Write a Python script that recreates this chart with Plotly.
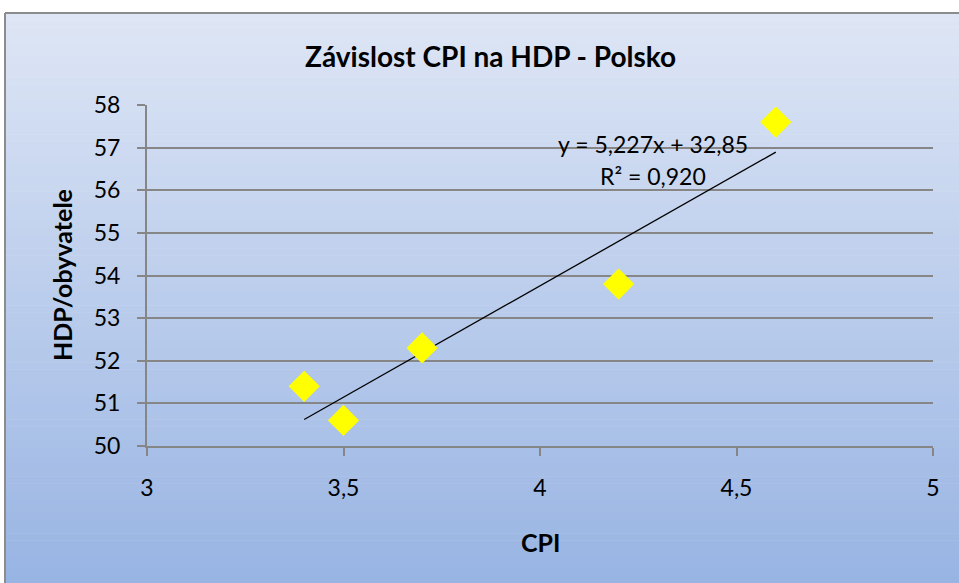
import numpy as np
import plotly.graph_objects as go

cpi = [3.4, 3.5, 3.7, 4.2, 4.6]
hdp = [51.4, 50.6, 52.3, 53.8, 57.6]
slope = 5.227
intercept = 32.85
r2_text = "R² = 0,920"
eq_text = "y = 5,227x + 32,85"
title = "<b>Závislost CPI na HDP - Polsko</b>"
x_title = "<b>CPI</b>"
y_title = "<b>HDP/obyvatele</b>"

W, H = 959, 583
L, R, T, B = 147, 26, 105, 137
pw, ph = W - L - R, H - T - B

def px_to_paper_x(px):
    return (px - L) / pw

def py_to_paper_y(py):
    return (H - B - py) / ph

FONT = "Lato"
fig = go.Figure()

trend_x = [min(cpi), max(cpi)]
trend_y = [slope * v + intercept for v in trend_x]
fig.add_trace(go.Scatter(x=trend_x, y=trend_y, mode="lines",
                         line=dict(color="black", width=1.3),
                         showlegend=False, hoverinfo="skip"))
fig.add_trace(go.Scatter(x=cpi, y=hdp, mode="markers",
                         marker=dict(symbol="diamond", size=24, color="#ffff00",
                                     line=dict(width=0)),
                         showlegend=False))

# gradient background bands
shapes = []
top_c = np.array([222, 230, 245])
bot_c = np.array([152, 180, 227])
y0px, y1px = 13, H
n = 80
for i in range(n):
    a = y0px + (y1px - y0px) * i / n
    b = y0px + (y1px - y0px) * (i + 1) / n
    t = (i + 0.5) / n
    c = top_c + (bot_c - top_c) * t
    shapes.append(dict(type="rect", xref="paper", yref="paper", layer="below",
                       x0=px_to_paper_x(5), x1=px_to_paper_x(W + 5),
                       y0=py_to_paper_y(b + 0.5), y1=py_to_paper_y(a),
                       fillcolor="rgb(%d,%d,%d)" % tuple(c.round()),
                       line=dict(width=0)))
# border
shapes.append(dict(type="line", xref="paper", yref="paper", layer="below",
                   x0=px_to_paper_x(5), x1=px_to_paper_x(5),
                   y0=py_to_paper_y(13), y1=py_to_paper_y(H + 5),
                   line=dict(color="#8c8c8c", width=2)))
shapes.append(dict(type="line", xref="paper", yref="paper", layer="below",
                   x0=px_to_paper_x(5), x1=px_to_paper_x(W + 5),
                   y0=py_to_paper_y(13), y1=py_to_paper_y(13),
                   line=dict(color="#8c8c8c", width=2)))

annotations = [
    dict(text=title, xref="paper", yref="paper", x=px_to_paper_x(490), y=py_to_paper_y(56),
         showarrow=False, font=dict(family=FONT, size=28, color="black"),
         xanchor="center", yanchor="middle"),
    dict(text=y_title, xref="paper", yref="paper", x=px_to_paper_x(62), y=py_to_paper_y(275),
         showarrow=False, textangle=-90, font=dict(family=FONT, size=25, color="black"),
         xanchor="center", yanchor="middle"),
    dict(text=x_title, xref="paper", yref="paper", x=px_to_paper_x(540), y=py_to_paper_y(542),
         showarrow=False, font=dict(family=FONT, size=25, color="black"),
         xanchor="center", yanchor="middle"),
    dict(text=eq_text, xref="paper", yref="paper", x=px_to_paper_x(653), y=py_to_paper_y(144),
         showarrow=False, font=dict(family=FONT, size=23, color="black"),
         xanchor="center", yanchor="middle"),
    dict(text=r2_text, xref="paper", yref="paper", x=px_to_paper_x(653), y=py_to_paper_y(176),
         showarrow=False, font=dict(family=FONT, size=23, color="black"),
         xanchor="center", yanchor="middle"),
]

fig.update_layout(
    width=W, height=H,
    margin=dict(l=L, r=R, t=T, b=B),
    paper_bgcolor="white",
    plot_bgcolor="rgba(0,0,0,0)",
    separators=", ",
    shapes=shapes,
    annotations=annotations,
    font=dict(family=FONT, size=23, color="black"),
)
fig.update_xaxes(range=[3, 5], dtick=0.5, tick0=3, showgrid=False, zeroline=False,
                 showline=True, linecolor="#868686", linewidth=2,
                 ticks="outside", ticklen=8, tickcolor="#868686", tickwidth=1.5,
                 ticklabelstandoff=12, tickfont=dict(family=FONT, size=23))
fig.update_yaxes(range=[50, 58], dtick=1, tick0=50, showgrid=True, gridcolor="#868686",
                 gridwidth=1.5, zeroline=False,
                 showline=True, linecolor="#868686", linewidth=2,
                 ticks="outside", ticklen=8, tickcolor="#868686", tickwidth=1.5,
                 ticklabelstandoff=12, tickfont=dict(family=FONT, size=23))

fig.write_html("out.html", config={"displayModeBar": False},
               post_script="document.body.style.margin='0';")
